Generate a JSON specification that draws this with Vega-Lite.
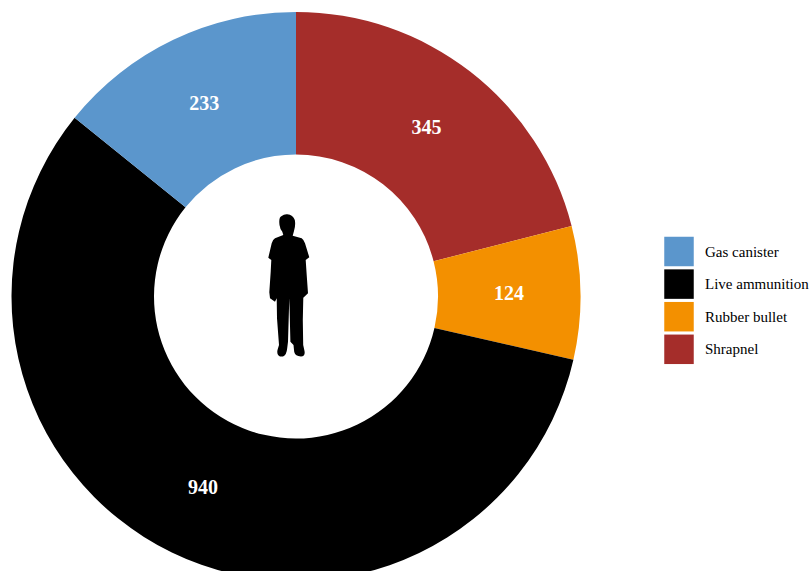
{
"$schema":"https://vega.github.io/schema/vega-lite/v6.json",
"width":592,"height":593,"padding":0,"autosize":{"type":"pad"},
"background":"white",
"view":{"stroke":null},
"data":{"values":[
{"cause":"Shrapnel","count":345,"rank":1},
{"cause":"Rubber bullet","count":124,"rank":2},
{"cause":"Live ammunition","count":940,"rank":3},
{"cause":"Gas canister","count":233,"rank":4}
]},
"layer":[
{"mark":{"type":"arc","outerRadius":284.5,"innerRadius":142},
"encoding":{
"theta":{"field":"count","type":"quantitative","stack":true},
"order":{"field":"rank","type":"ordinal"},
"color":{"field":"cause","type":"nominal",
"scale":{"domain":["Gas canister","Live ammunition","Rubber bullet","Shrapnel"],"range":["#5B96CC","#000000","#F39000","#A52D2A"]},
"legend":{"title":null,"orient":"none","legendX":664,"legendY":236.5,"symbolType":"square","symbolSize":870,"symbolStrokeWidth":0,"rowPadding":2.6,"labelFont":"Liberation Serif","labelFontSize":15,"labelColor":"#000000","labelOffset":11,"labelLimit":200}}
}},
{"mark":{"type":"text","radius":213,"font":"Liberation Serif","fontWeight":"bold","fontSize":20,"color":"white"},
"encoding":{
"theta":{"field":"count","type":"quantitative","stack":true},
"order":{"field":"rank","type":"ordinal"},
"text":{"field":"count","type":"quantitative"}
}},
{"mark":{"type":"point","filled":true,"color":"#000000","opacity":1,"size":4,"strokeWidth":0,"yOffset":-1.5,
"shape":"M-8.7,-80.7 Q-3,-80 -1.2,-75 Q-0.2,-70 -2,-64 L-3.3,-59.3 L5.7,-56.7 Q8,-55 9,-51.7 L13.3,-37.7 L9.7,-35 L10.7,-20 L12,-1.7 L7.3,2.7 L6.8,25 L7.2,50 L8.5,56 Q9.5,61.5 5,61.5 L2.3,61 Q-2,60 -2,55 L-2.5,50 L-5.6,46.7 L-6.7,3.3 L-8,46.7 L-8.8,53.3 Q-9.5,60.5 -13,61.5 L-16,61.5 Q-19.5,60 -18.5,55 L-17,50 L-19,23.3 L-19.3,3.3 L-21,6.7 L-26,3.3 L-26.7,-2.7 L-25.3,-23.3 L-24.7,-35 L-27.7,-37.3 L-24.3,-51.7 Q-23,-55.5 -21,-56.7 L-12.7,-60 L-13.7,-63.3 Q-16,-66 -16.5,-70 Q-17.5,-78 -14.3,-79 Q-12,-81 -8.7,-80.7 Z"},
"data":{"values":[{"figure":"child"}]},
"encoding":{}}
]
}
